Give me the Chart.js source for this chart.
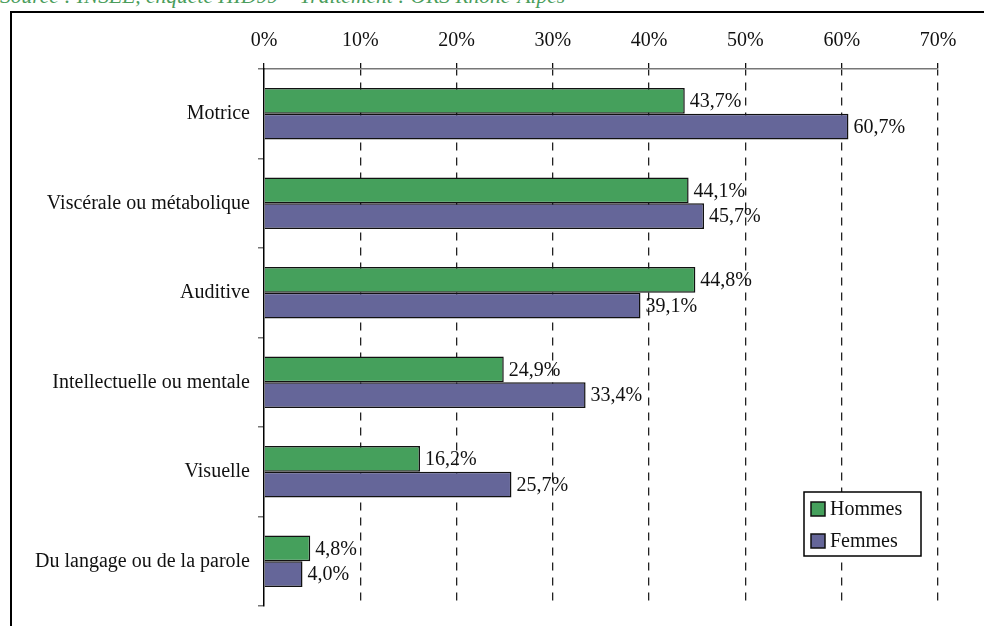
<!DOCTYPE html>
<html>
<head>
<meta charset="utf-8">
<script src="https://cdn.jsdelivr.net/npm/chart.js@4.4.0/dist/chart.umd.min.js"></script>
<style>
  body { margin: 0; background: #fff; overflow: hidden; }
  #wrap { position: relative; width: 984px; height: 626px; overflow: hidden; }
  #source {
    position: absolute; left: 0; top: -16px;
    font-family: "Liberation Serif", serif; font-style: italic; font-size: 21.5px;
    color: #4a9d5b; white-space: nowrap;
  }
  #frame {
    position: absolute; left: 10px; top: 11px; width: 1100px; height: 800px;
    border-left: 2px solid #000; border-top: 2px solid #000;
  }
  #myChart { position: absolute; left: 0; top: 0; }
</style>
</head>
<body>
<div id="wrap">
  <div id="source">Source : INSEE, enquête HID99 – Traitement : ORS Rhône-Alpes</div>
  <div id="frame"></div>
  <canvas id="myChart" width="984" height="626"></canvas>
</div>
<script>
let categories = [
  "Motrice",
  "Viscérale ou métabolique",
  "Auditive",
  "Intellectuelle ou mentale",
  "Visuelle",
  "Du langage ou de la parole"
];
let hommes = [43.7, 44.1, 44.8, 24.9, 16.2, 4.8];
let femmes = [60.7, 45.7, 39.1, 33.4, 25.7, 4.0];
let seriesNames = ["Hommes", "Femmes"];
let seriesColors = ["#45a05c", "#656699"];

let labelFont = '20px "Liberation Serif", serif';

function formatPct(v) {
  return v.toFixed(1).replace(".", ",") + "%";
}

// value labels at the end of each bar
const valueLabels = {
  id: "valueLabels",
  afterDatasetsDraw(chart) {
    let ctx = chart.ctx;
    ctx.save();
    ctx.font = labelFont;
    ctx.fillStyle = "#111";
    ctx.textAlign = "left";
    ctx.textBaseline = "middle";
    chart.data.datasets.forEach((ds, i) => {
      chart.getDatasetMeta(i).data.forEach((bar, j) => {
        ctx.fillText(formatPct(ds.data[j]), bar.x + 5, bar.y + 1);
      });
    });
    ctx.restore();
  }
};

// boxed legend inside the plot, bottom right
const boxLegend = {
  id: "boxLegend",
  afterDraw(chart) {
    let ctx = chart.ctx;
    let x = 804, y = 492, w = 117, h = 64;
    ctx.save();
    ctx.fillStyle = "#fff";
    ctx.fillRect(x, y, w, h);
    ctx.strokeStyle = "#000";
    ctx.lineWidth = 1.5;
    ctx.strokeRect(x, y, w, h);
    ctx.font = labelFont;
    ctx.textBaseline = "middle";
    chart.data.datasets.forEach((ds, i) => {
      let by = y + 10 + i * 32;
      ctx.fillStyle = ds.backgroundColor;
      ctx.fillRect(x + 7, by, 14, 14);
      ctx.strokeStyle = "#111";
      ctx.lineWidth = 1.5;
      ctx.strokeRect(x + 7, by, 14, 14);
      ctx.fillStyle = "#111";
      ctx.fillText(ds.label, x + 26, by + 8);
    });
    ctx.restore();
  }
};

const data = {
  labels: categories,
  datasets: [
    {
      label: seriesNames[0],
      data: hommes,
      backgroundColor: seriesColors[0],
      borderColor: "#111",
      borderWidth: 1.5
    },
    {
      label: seriesNames[1],
      data: femmes,
      backgroundColor: seriesColors[1],
      borderColor: "#111",
      borderWidth: 1.5
    }
  ]
};

const config = {
  type: "bar",
  data: data,
  options: {
    indexAxis: "y",
    responsive: false,
    animation: false,
    layout: { padding: { left: 0, right: 46, top: 0, bottom: 20 } },
    datasets: {
      bar: { categoryPercentage: 0.574, barPercentage: 1 }
    },
    plugins: {
      legend: { display: false },
      tooltip: { enabled: false }
    },
    scales: {
      x: {
        position: "top",
        min: 0,
        max: 70,
        afterFit: (s) => { s.height = 69; },
        ticks: {
          stepSize: 10,
          padding: 10,
          color: "#111",
          font: { family: '"Liberation Serif", serif', size: 20 },
          callback: (v) => v + "%"
        },
        grid: {
          color: (c) => (c.tick && c.tick.value === 0 ? "rgba(0,0,0,0)" : "#222"),
          lineWidth: 1.3,
          tickBorderDash: [],
          tickColor: "#111",
          tickLength: 6
        },
        border: { color: "#777", width: 1.5, dash: [8, 7], dashOffset: 2 }
      },
      y: {
        afterFit: (s) => { s.width = 264; },
        ticks: {
          padding: 8,
          color: "#111",
          font: { family: '"Liberation Serif", serif', size: 20 }
        },
        grid: {
          offset: true,
          drawOnChartArea: false,
          tickColor: "#777",
          tickLength: 6,
          lineWidth: 1.5
        },
        border: { color: "#000", width: 1.5 }
      }
    }
  },
  plugins: [valueLabels, boxLegend]
};

let myChart = document.getElementById("myChart");
const newChart = new Chart(myChart, config);
</script>
</body>
</html>
